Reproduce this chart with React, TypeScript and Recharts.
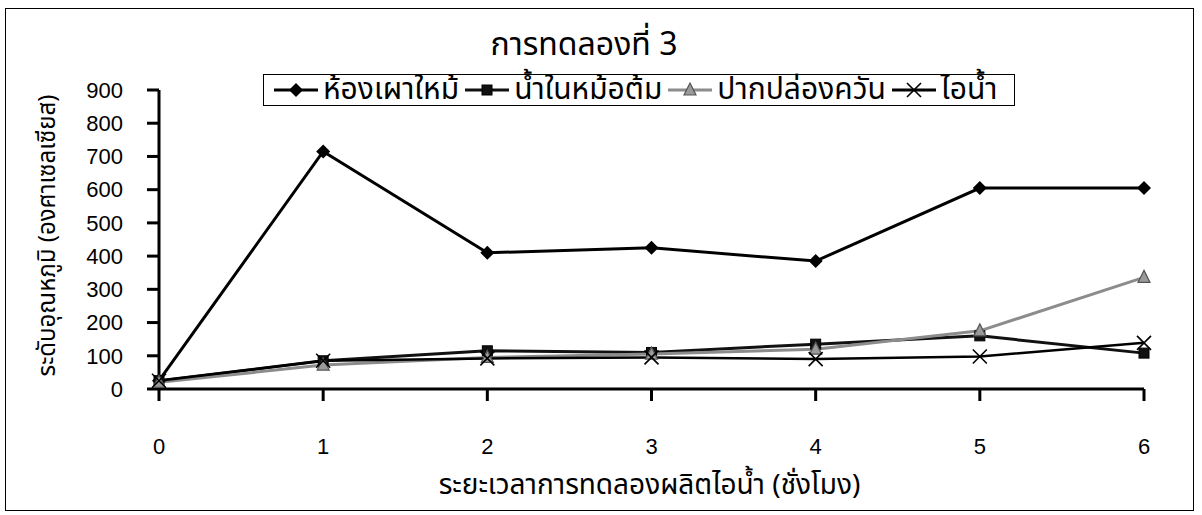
import React from "react";
import { LineChart, Line, XAxis, YAxis } from "recharts";

const hours = [0, 1, 2, 3, 4, 5, 6];
const chamber = [25, 715, 410, 425, 385, 605, 605];
const boilerWater = [25, 85, 115, 110, 135, 160, 108];
const chimney = [20, 72, 95, 105, 120, 175, 336];
const steam = [25, 85, 92, 95, 90, 98, 139];
const yTicks = [0, 100, 200, 300, 400, 500, 600, 700, 800, 900];

const seriesNames = ["ห้องเผาใหม้", "น้ำในหม้อต้ม", "ปากปล่องควัน", "ไอน้ำ"];

const data = hours.map((h, i) => ({
  h,
  chamber: chamber[i],
  boilerWater: boilerWater[i],
  chimney: chimney[i],
  steam: steam[i],
}));

const FONT = '"Liberation Sans", Arial, sans-serif';
const THAI = '"Noto Sans Thai", "Loma", "Garuda", "Norasi", "DejaVu Sans", sans-serif';

type MarkProps = { cx?: number; cy?: number };

const Diamond = ({ cx, cy }: MarkProps) =>
  cx == null || cy == null ? null : (
    <path d={`M${cx},${cy - 7}L${cx + 7},${cy}L${cx},${cy + 7}L${cx - 7},${cy}Z`} fill="#000" />
  );

const Square = ({ cx, cy }: MarkProps) =>
  cx == null || cy == null ? null : (
    <rect x={cx - 5} y={cy - 5} width={10} height={10} fill="#111" stroke="#000" strokeWidth={1} />
  );

const Triangle = ({ cx, cy }: MarkProps) =>
  cx == null || cy == null ? null : (
    <path d={`M${cx},${cy - 7}L${cx + 6},${cy + 5}L${cx - 6},${cy + 5}Z`} fill="#9a9a9a" stroke="#555" strokeWidth={1.2} />
  );

const Cross = ({ cx, cy }: MarkProps) =>
  cx == null || cy == null ? null : (
    <path d={`M${cx - 7},${cy - 7}L${cx + 7},${cy + 7}M${cx + 7},${cy - 7}L${cx - 7},${cy + 7}`} stroke="#000" strokeWidth={1.6} fill="none" />
  );

const marks = [Diamond, Square, Triangle, Cross];
const lineColors = ["#000", "#111", "#8c8c8c", "#000"];

// legend drawn as a plain box above the plot
const LegendBox = () => (
  <div
    style={{
      position: "absolute",
      left: 263,
      top: 74,
      width: 752,
      height: 32,
      display: "flex",
      alignItems: "center",
      border: "1px solid #000",
      background: "#fff",
      paddingLeft: 8,
      fontFamily: THAI,
      fontSize: 30,
      lineHeight: "30px",
      color: "#000",
      boxSizing: "border-box",
      overflow: "visible",
    }}
  >
    {seriesNames.map((name, i) => {
      const M = marks[i];
      return (
        <div key={name} style={{ display: "flex", alignItems: "center", marginRight: 4 }}>
          <svg width={48} height={18}>
            <line x1={2} y1={9} x2={46} y2={9} stroke={lineColors[i]} strokeWidth={3} />
            <M cx={24} cy={9} />
          </svg>
          <span style={{ marginLeft: 3, whiteSpace: "nowrap" }}>{name}</span>
        </div>
      );
    })}
  </div>
);

export default function App() {
  const keys = ["chamber", "boilerWater", "chimney", "steam"];
  return (
    <div style={{ position: "absolute", left: 0, top: 0, width: 1202, height: 515, background: "#fff" }}>
      <div
        style={{
          position: "absolute",
          left: 5,
          top: 8,
          width: 1189,
          height: 503,
          border: "1.5px solid #000",
          boxSizing: "border-box",
        }}
      />
      <div style={{ position: "absolute", left: 0, top: 0 }}>
        <LineChart width={1202} height={515} data={data} margin={{ top: 90, right: 58, bottom: 0, left: 0 }}>
          <XAxis
            dataKey="h"
            type="number"
            domain={[0, 6]}
            ticks={hours}
            interval={0}
            height={126}
            stroke="#000"
            strokeWidth={3}
            tickSize={12}
            tickMargin={37}
            fontSize={22}
            tick={{ fill: "#000", fontSize: 22, fontFamily: FONT }}
            label={{
              value: "ระยะเวลาการทดลองผลิตไอน้ำ (ชั่งโมง)",
              position: "insideBottom",
              offset: 21,
              fill: "#000",
              fontSize: 28,
              fontFamily: THAI,
              dx: -2,
            }}
          />
          <YAxis
            width={159}
            domain={[0, 900]}
            ticks={yTicks}
            interval={0}
            stroke="#000"
            strokeWidth={3}
            tickSize={12}
            tickMargin={24}
            fontSize={22}
            tick={{ fill: "#000", fontSize: 22, fontFamily: FONT }}
            label={{
              value: "ระดับอุณหภูมิ (องศาเซลเซียส)",
              angle: -90,
              position: "insideLeft",
              offset: 46,
              fill: "#000",
              fontSize: 24,
              fontFamily: THAI,
              dy: -4,
              style: { textAnchor: "middle" },
            }}
          />
          {keys.map((k, i) => {
            const M = marks[i];
            return (
              <Line
                key={k}
                dataKey={k}
                name={seriesNames[i]}
                stroke={lineColors[i]}
                strokeWidth={i === 3 ? 2.5 : 3}
                isAnimationActive={false}
                dot={(p: any) => <M key={`${k}-${p.index}`} cx={p.cx} cy={p.cy} />}
                activeDot={false}
              />
            );
          })}
        </LineChart>
      </div>
      <div
        style={{
          position: "absolute",
          left: 464,
          width: 240,
          top: 26,
          textAlign: "center",
          fontFamily: THAI,
          fontSize: 32,
          lineHeight: "38px",
          color: "#000",
          whiteSpace: "nowrap",
        }}
      >
        การทดลองที่ 3
      </div>
      <LegendBox />
    </div>
  );
}
